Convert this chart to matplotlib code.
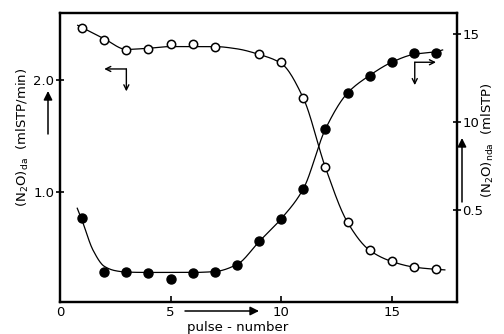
import numpy as np
import matplotlib
matplotlib.use("Agg")
import matplotlib.pyplot as plt

# ---- data ----
pulse_da = [1, 2, 3, 4, 5, 6, 7, 9, 10, 11, 12, 13, 14, 15, 16, 17]
n2o_da = [2.47, 2.36, 2.27, 2.28, 2.32, 2.32, 2.30, 2.23, 2.16, 1.84, 1.22, 0.73, 0.48, 0.38, 0.33, 0.31]

pulse_nda = [1, 2, 3, 4, 5, 6, 7, 8, 9, 10, 11, 12, 13, 14, 15, 16, 17]
n2o_nda = [0.453, 0.149, 0.146, 0.144, 0.110, 0.144, 0.148, 0.189, 0.322, 0.451, 0.618, 0.960, 1.168, 1.263, 1.343, 1.390, 1.390]

# hand-drawn trend curves
curve_da_x = [0.8, 1, 2, 3, 4, 5, 6, 7, 8, 9, 10, 11, 12, 13, 14, 15, 16, 17, 17.4]
curve_da_y = [2.49, 2.47, 2.37, 2.275, 2.285, 2.30, 2.30, 2.30, 2.28, 2.23, 2.15, 1.84, 1.22, 0.73, 0.48, 0.38, 0.33, 0.31, 0.305]
curve_nda_x = [0.78, 1, 1.5, 2, 2.5, 3, 4, 5, 6, 7, 8, 9, 10, 11, 12, 13, 14, 15, 16, 17, 17.3]
curve_nda_y = [0.51, 0.44, 0.27, 0.18, 0.155, 0.147, 0.145, 0.145, 0.145, 0.15, 0.19, 0.32, 0.45, 0.62, 0.96, 1.165, 1.265, 1.34, 1.385, 1.40, 1.41]

x_ticks = [0, 5, 10, 15]
x_ticklabels = ["0", "5", "10", "15"]
left_ticks = [1.0, 2.0]
left_ticklabels = ["1.0", "2.0"]
right_ticks = [0.5, 1.0, 1.5]
right_ticklabels = ["0.5", "10", "15"]


def smooth(xk, yk, n=400):
    xk = np.asarray(xk, float)
    yk = np.asarray(yk, float)
    # monotone cubic (PCHIP-like) rendering of traced curve
    h = np.diff(xk)
    d = np.diff(yk) / h
    m = np.zeros_like(xk)
    m[0], m[-1] = d[0], d[-1]
    for i in range(1, len(xk) - 1):
        if d[i - 1] * d[i] <= 0:
            m[i] = 0.0
        else:
            w1 = 2 * h[i] + h[i - 1]
            w2 = h[i] + 2 * h[i - 1]
            m[i] = (w1 + w2) / (w1 / d[i - 1] + w2 / d[i])
    xs = np.linspace(xk[0], xk[-1], n)
    idx = np.clip(np.searchsorted(xk, xs) - 1, 0, len(xk) - 2)
    t = (xs - xk[idx]) / h[idx]
    h00 = 2 * t**3 - 3 * t**2 + 1
    h10 = t**3 - 2 * t**2 + t
    h01 = -2 * t**3 + 3 * t**2
    h11 = t**3 - t**2
    ys = h00 * yk[idx] + h10 * h[idx] * m[idx] + h01 * yk[idx + 1] + h11 * h[idx] * m[idx + 1]
    return xs, ys


plt.rcParams['font.family'] = ['DejaVu Sans']
fig = plt.figure(figsize=(5.04, 3.34), dpi=100)
ax = fig.add_axes([60 / 504, 1 - 302 / 334, (457 - 60) / 504, (302 - 13) / 334])
ax2 = ax.twinx()

# left axis (da, open circles)
xs, ys = smooth(curve_da_x, curve_da_y)
ax.plot(xs, ys, color='k', lw=0.9)
ax.plot(pulse_da, n2o_da, 'o', ms=6, mfc='white', mec='k', mew=1.1, zorder=5)

# right axis (nda, filled circles)
xs, ys = smooth(curve_nda_x, curve_nda_y)
ax2.plot(xs, ys, color='k', lw=0.9)
ax2.plot(pulse_nda, n2o_nda, 'o', ms=6.5, mfc='k', mec='k', zorder=5)

ax.set_xlim(0, 17.95)
ax.set_ylim(0.018, 2.6)
ax2.set_ylim(-0.023, 1.62)

ax.set_xticks(x_ticks)
ax.set_xticklabels(x_ticklabels)
ax.set_yticks(left_ticks)
ax.set_yticklabels(left_ticklabels)
ax2.set_yticks(right_ticks)
ax2.set_yticklabels(right_ticklabels)

for a in (ax, ax2):
    for s in a.spines.values():
        s.set_linewidth(1.6)
ax.tick_params(axis='x', direction='in', length=4, width=1.2, pad=3, labelsize=9.5)
ax.tick_params(axis='y', direction='inout', length=6, width=1.2, pad=1, labelsize=9.5)
ax2.tick_params(axis='y', direction='inout', length=6, width=1.2, pad=1, labelsize=9.5)

# corner arrows inside plot
ax.annotate('', xy=(2.0, 2.10), xytext=(3.0, 2.10),
            arrowprops=dict(arrowstyle='->', lw=1.0, color='k', mutation_scale=9, shrinkA=0, shrinkB=0))
ax.annotate('', xy=(3.0, 1.90), xytext=(3.0, 2.10),
            arrowprops=dict(arrowstyle='->', lw=1.0, color='k', mutation_scale=9, shrinkA=0, shrinkB=0))
ax2.annotate('', xy=(17.0, 1.34), xytext=(16.04, 1.34),
             arrowprops=dict(arrowstyle='->', lw=1.0, color='k', mutation_scale=9, shrinkA=0, shrinkB=0))
ax2.annotate('', xy=(16.04, 1.21), xytext=(16.04, 1.34),
             arrowprops=dict(arrowstyle='->', lw=1.0, color='k', mutation_scale=9, shrinkA=0, shrinkB=0))

# axis-label arrows
def fig_arrow(x0, y0, x1, y1):
    fig.add_artist(matplotlib.patches.FancyArrowPatch(
        (x0 / 504, 1 - y0 / 334), (x1 / 504, 1 - y1 / 334), transform=fig.transFigure,
        arrowstyle='-|>', mutation_scale=13, lw=1.1, color='k', shrinkA=0, shrinkB=0))

fig_arrow(185, 311, 259, 311)
fig_arrow(48, 134, 48, 91)
fig_arrow(462, 202, 462, 138)

fig.text(238 / 504, 1 - 327.5 / 334, 'pulse - number', ha='center', va='center', fontsize=9.5)
fig.text(23 / 504, 1 - 137 / 334, r'$(\mathrm{N_2O})_{\mathrm{da}}$  (mlSTP/min)',
         rotation=90, ha='center', va='center', fontsize=9.5)
fig.text(488 / 504, 1 - 140 / 334, r'$(\mathrm{N_2O})_{\mathrm{nda}}$  (mlSTP)',
         rotation=90, ha='center', va='center', fontsize=9.5)

fig.savefig('out.png', dpi=100)
